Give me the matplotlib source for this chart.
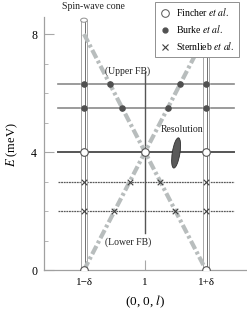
import numpy as np
import matplotlib.pyplot as plt
import matplotlib.transforms as mtransforms
from matplotlib.patches import Ellipse
from matplotlib.lines import Line2D

plt.rcParams['font.family'] = ['Liberation Serif', 'DejaVu Serif']
plt.rcParams['mathtext.fontset'] = 'stix'

# x em unidades de delta, centrado em l = 1
x_ticks = [-1, 0, 1]
x_labels = ['1\u2212\u03b4', '1', '1+\u03b4']
y_ticks = [0, 4, 8]

# cone de ondas de spin
cone_x = [-1, 1]
cone_E = [0, 8]

# linhas horizontais (energias)
burke_E = [6.3, 5.5]
fincher_E = [4.0]
sternlieb_E = [3.0, 2.0]

# pontos medidos
fincher_x = [-1, 0, 1, -1, 1]
fincher_y = [4, 4, 4, 0, 0]
burke_x = [-1, -0.575, 0.575, 1, -1, -0.375, 0.375, 1]
burke_y = [6.3, 6.3, 6.3, 6.3, 5.5, 5.5, 5.5, 5.5]
stern_x = [-1, -0.25, 0.25, 1, -1, -0.5, 0.5, 1]
stern_y = [3, 3, 3, 3, 2, 2, 2, 2]

tube_top = 8.47
fb_x = 0
fb_E = [1.25, 6.7]
res_x, res_E = 0.51, 3.97

fig = plt.figure(figsize=(2.47, 3.14), dpi=100)
ax = fig.add_axes([0.178, 0.140, 0.822, 0.806])
ax.set_xlim(-1.656, 1.672)
ax.set_ylim(0, 8.58)

for s in ['top', 'right']:
    ax.spines[s].set_visible(False)
for s in ['left', 'bottom']:
    ax.spines[s].set_color('#a0a0a0')
    ax.spines[s].set_linewidth(0.9)

# tubos verticais em 1-delta e 1+delta
for xc in [-1, 1]:
    ax.fill_betweenx([0, tube_top], xc - 0.05, xc + 0.05, color='white', zorder=2)
    ax.plot([xc - 0.05, xc - 0.05], [0, tube_top], color='#a8a8a8', lw=0.7, zorder=2)
    ax.plot([xc + 0.05, xc + 0.05], [0, tube_top], color='#a8a8a8', lw=0.7, zorder=2)
    ax.plot([xc + 0.01, xc + 0.01], [0, tube_top], color='#707070', lw=0.7, zorder=2)
    ax.add_patch(Ellipse((xc, tube_top), 0.11, 0.14, facecolor='white',
                         edgecolor='#909090', lw=0.7, zorder=3))

# linhas horizontais
for e in burke_E:
    ax.plot([-1.43, 1.46], [e, e], color='#8a8a8a', lw=1.2, zorder=1)
for e in fincher_E:
    ax.plot([-1.43, 1.46], [e, e], color='#555555', lw=1.4, zorder=1)
for e in sternlieb_E:
    ax.plot([-1.43, 1.46], [e, e], color='#5a5a5a', lw=0.9, ls=(0, (1.5, 0.6)), zorder=1)

# linha vertical em l = 1
ax.plot([fb_x, fb_x], fb_E, color='#555555', lw=1.0, zorder=1)

# cone
ax.plot(cone_x, cone_E, color='#b8bdbd', lw=3.0, dashes=(2.2, 0.7, 0.7, 0.7), zorder=2.5)
ax.plot(cone_x, cone_E[::-1], color='#b8bdbd', lw=3.0, dashes=(2.2, 0.7, 0.7, 0.7), zorder=2.5)

# pontos
ax.scatter(fincher_x, fincher_y, s=30, facecolor='white', edgecolor='#555555', lw=0.8, zorder=5)
ax.scatter(burke_x, burke_y, s=14, color='#505050', zorder=5)
ax.scatter(stern_x, stern_y, s=16, marker='x', color='#404040', lw=0.8, zorder=5)

# resolucao (elipse em pontos, centrada na posicao em dados)
tr = (mtransforms.Affine2D().scale(1 / 72) + fig.dpi_scale_trans
      + mtransforms.ScaledTranslation(res_x, res_E, ax.transData))
ax.add_patch(Ellipse((0, 0), 5.5, 22, angle=-9, facecolor='#5a5a5a',
                     edgecolor='#303030', lw=0.6, zorder=4, transform=tr))
ax.text(0.61, 4.75, 'Resolution', fontsize=7, ha='center', va='center', color='#222222')

ax.text(-0.28, 6.75, '(Upper FB)', fontsize=7, ha='center', va='center', color='#222222')
ax.text(-0.28, 0.95, '(Lower FB)', fontsize=7, ha='center', va='center', color='#222222')
ax.text(-0.85, 8.92, 'Spin-wave cone', fontsize=7, ha='center', va='center', color='#222222')

# eixos
ax.set_xticks(x_ticks)
ax.set_xticklabels(x_labels, fontsize=8)
ax.set_yticks(y_ticks)
ax.set_yticklabels([str(v) for v in y_ticks], fontsize=8.5)
ax.set_yticks(np.arange(0, 9, 1), minor=True)
ax.tick_params(axis='both', which='major', direction='in', length=7, color='#a8a8a8', pad=5)
ax.tick_params(axis='y', which='minor', direction='in', length=3, color='#a8a8a8')
ax.tick_params(axis='x', which='major', pad=6)

fig.text(0.05, 0.54, '$E$ (meV)', rotation=90, fontsize=9, ha='center', va='center')
fig.text(0.587, 0.038, '(0, 0, $l$)', fontsize=9.5, ha='center', va='center')

handles = [
    Line2D([], [], ls='none', marker='o', markersize=5.5, markerfacecolor='white',
           markeredgecolor='#555555', markeredgewidth=0.7),
    Line2D([], [], ls='none', marker='o', markersize=3.5, color='#505050'),
    Line2D([], [], ls='none', marker='x', markersize=4.5, color='#404040', markeredgewidth=0.8),
]
labels = ['Fincher $et\\ al.$', 'Burke $et\\ al.$', 'Sternlieb $et\\ al.$']
leg = ax.legend(handles, labels, loc='upper right', bbox_to_anchor=(0.985, 1.08),
                fontsize=7, frameon=True, fancybox=False, framealpha=1.0,
                handletextpad=0.6, handlelength=1.0, borderpad=0.5, labelspacing=0.5)
leg.get_frame().set_edgecolor('#909090')
leg.get_frame().set_linewidth(0.7)
leg.set_zorder(10)

fig.savefig('out.png', dpi=100)
